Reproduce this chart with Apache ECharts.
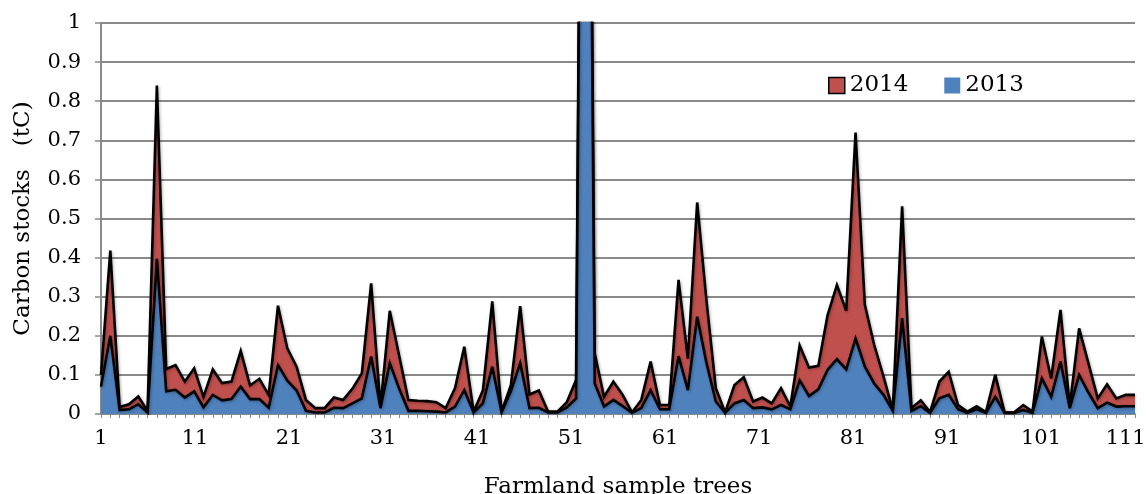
<!DOCTYPE html>
<html>
<head>
<meta charset="utf-8">
<script src="https://cdn.jsdelivr.net/npm/echarts@6/dist/echarts.min.js"></script>
<style>
  html, body { margin: 0; padding: 0; background: #fff; }
  #chart { width: 1146px; height: 494px; }
</style>
</head>
<body>
<div id="chart"></div>
<script>
// Category indices (farmland sample trees 1..112)
const categories = [];
for (let i = 1; i <= 112; i++) categories.push(String(i));
// Tick-label scale of the original (labels 1..111, every 10th shown)
const labelCategories = [];
for (let i = 1; i <= 111; i++) labelCategories.push(String(i));

// Carbon stocks (tC) per tree
const val2014 = [
  0.10, 0.418, 0.018, 0.025, 0.045, 0.008, 0.84, 0.115, 0.125, 0.083,
  0.117, 0.044, 0.114, 0.079, 0.083, 0.161, 0.073, 0.09, 0.049, 0.277,
  0.168, 0.121, 0.036, 0.015, 0.015, 0.042, 0.036, 0.065, 0.104, 0.334,
  0.019, 0.264, 0.15, 0.036, 0.034, 0.033, 0.03, 0.015, 0.066, 0.172,
  0.006, 0.061, 0.288, 0.006, 0.074, 0.276, 0.05, 0.06, 0.006, 0.006,
  0.03, 0.087, 3.3, 0.155, 0.044, 0.083, 0.049, 0.004, 0.036, 0.134,
  0.023, 0.023, 0.343, 0.142, 0.541, 0.29, 0.066, 0.004, 0.074, 0.094,
  0.032, 0.042, 0.027, 0.066, 0.019, 0.175, 0.119, 0.123, 0.253, 0.33,
  0.264, 0.72, 0.279, 0.177, 0.096, 0.01, 0.531, 0.015, 0.035, 0.005,
  0.083, 0.108, 0.023, 0.006, 0.02, 0.005, 0.1, 0.004, 0.004, 0.023,
  0.006, 0.198, 0.091, 0.266, 0.02, 0.219, 0.13, 0.04, 0.076, 0.04,
  0.049, 0.049
];
const val2013 = [
  0.07, 0.20, 0.010, 0.012, 0.025, 0.004, 0.397, 0.058, 0.062, 0.042,
  0.058, 0.017, 0.049, 0.035, 0.038, 0.07, 0.038, 0.038, 0.016, 0.125,
  0.085, 0.06, 0.008, 0.004, 0.004, 0.016, 0.015, 0.027, 0.04, 0.147,
  0.015, 0.13, 0.065, 0.008, 0.008, 0.007, 0.006, 0.004, 0.019, 0.061,
  0.004, 0.027, 0.121, 0.004, 0.058, 0.13, 0.015, 0.016, 0.004, 0.004,
  0.017, 0.04, 3.2, 0.078, 0.019, 0.036, 0.02, 0.003, 0.015, 0.061,
  0.012, 0.012, 0.148, 0.061, 0.249, 0.13, 0.032, 0.003, 0.027, 0.036,
  0.015, 0.017, 0.012, 0.023, 0.012, 0.086, 0.046, 0.063, 0.113, 0.14,
  0.114, 0.193, 0.121, 0.078, 0.049, 0.008, 0.245, 0.008, 0.02, 0.003,
  0.04, 0.049, 0.012, 0.003, 0.012, 0.003, 0.044, 0.003, 0.003, 0.01,
  0.003, 0.091, 0.044, 0.134, 0.015, 0.1, 0.055, 0.015, 0.029, 0.019,
  0.02, 0.02
];

const FONT = '"DejaVu Serif", serif';
const LAST_LABEL = '111';
const chart = echarts.init(document.getElementById('chart'), null, { renderer: 'canvas' });
chart.setOption({
  animation: false,
  backgroundColor: '#ffffff',
  grid: { left: 101, right: 11, top: 23, bottom: 80, containLabel: false, outerBoundsMode: 'none' },
  legend: {
    left: 823, top: 69,
    itemWidth: 16, itemHeight: 16, itemGap: 36,
    icon: 'rect',
    textStyle: { fontFamily: FONT, fontSize: 23, color: '#000' },
    data: [
      { name: '2014', itemStyle: { color: '#C0504D', borderColor: '#000', borderWidth: 1.5 } },
      { name: '2013', itemStyle: { color: '#4F81BD', borderWidth: 0 } }
    ]
  },
  xAxis: [
    {
      type: 'category',
      boundaryGap: false,
      data: categories,
      name: 'Farmland sample trees',
      nameLocation: 'middle',
      nameGap: 62,
      nameTextStyle: { fontFamily: FONT, fontSize: 23, color: '#000' },
      axisLine: { lineStyle: { color: '#8a8a8a', width: 2 } },
      axisTick: { show: true, interval: 0, length: 4, lineStyle: { color: '#8a8a8a', width: 1 } },
      axisLabel: {
        interval: 9, margin: 14, fontFamily: FONT, fontSize: 21, color: '#000',
        formatter: v => (v === LAST_LABEL ? v : '')
      },
      splitLine: { show: false }
    },
    {
      type: 'category',
      position: 'bottom',
      boundaryGap: false,
      data: labelCategories,
      axisLine: { show: false },
      axisTick: { show: false },
      axisLabel: {
        interval: 9, margin: 14, fontFamily: FONT, fontSize: 21, color: '#000',
        formatter: v => (v === LAST_LABEL ? '' : v)
      },
      splitLine: { show: false }
    }
  ],
  yAxis: {
    type: 'value',
    min: 0, max: 1, interval: 0.1,
    name: 'Carbon stocks\u3000(tC)',
    nameLocation: 'middle',
    nameGap: 66,
    nameTextStyle: { fontFamily: FONT, fontSize: 23, color: '#000' },
    axisLine: { show: true, lineStyle: { color: '#8a8a8a', width: 2 } },
    axisTick: { show: true, length: 6, lineStyle: { color: '#8a8a8a', width: 1.5 } },
    axisLabel: {
      margin: 20, fontFamily: FONT, fontSize: 21, color: '#000',
      formatter: v => String(+v.toFixed(1))
    },
    splitLine: { show: true, lineStyle: { color: '#8a8a8a', width: 2 } }
  },
  series: [
    {
      name: '2014', type: 'line', data: val2014, xAxisIndex: 0,
      symbol: 'none', clip: true,
      lineStyle: { color: '#000', width: 2.6, join: 'miter', miterLimit: 4,
                   shadowColor: 'rgba(0,0,0,0.3)', shadowBlur: 3, shadowOffsetX: 1, shadowOffsetY: 1 },
      areaStyle: { color: '#C0504D', opacity: 1 },
      itemStyle: { color: '#C0504D' },
      z: 2
    },
    {
      name: '2013', type: 'line', data: val2013, xAxisIndex: 0,
      symbol: 'none', clip: true,
      lineStyle: { color: '#000', width: 2.6, join: 'miter', miterLimit: 4,
                   shadowColor: 'rgba(0,0,0,0.3)', shadowBlur: 3, shadowOffsetX: 1, shadowOffsetY: 1 },
      areaStyle: { color: '#4F81BD', opacity: 1 },
      itemStyle: { color: '#4F81BD' },
      z: 3
    }
  ]
});
</script>
</body>
</html>
